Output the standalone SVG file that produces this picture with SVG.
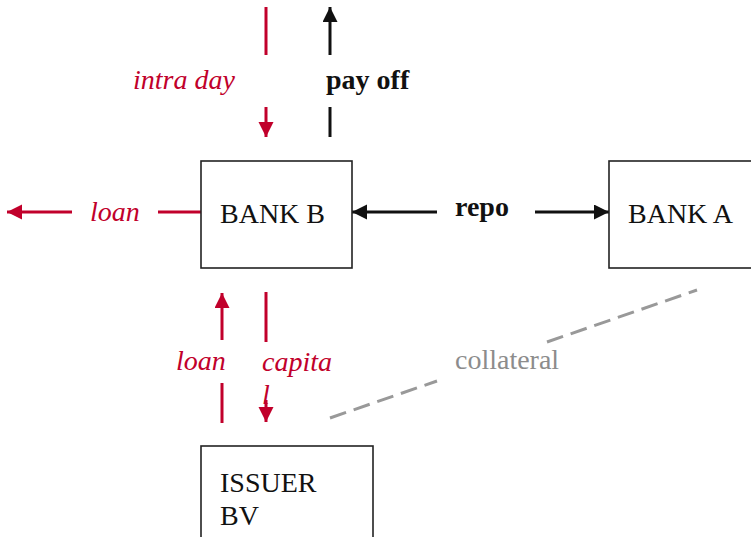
<svg xmlns="http://www.w3.org/2000/svg" width="751" height="537" viewBox="0 0 751 537">
  <style>
    .box { fill: #fff; stroke: #222; stroke-width: 1.6; }
    .lbl { font-family: "Liberation Serif", "Times New Roman", serif; font-size: 28px; fill: #111; }
    .red { stroke: #c1002b; stroke-width: 3; fill: none; }
    .blk { stroke: #111; stroke-width: 3; fill: none; }
    .rtxt { font-family: "Liberation Serif", "Times New Roman", serif; font-size: 28px; font-style: italic; fill: #c1002b; }
    .btxt { font-family: "Liberation Serif", "Times New Roman", serif; font-size: 28px; font-weight: bold; fill: #111; }
    .gtxt { font-family: "Liberation Serif", "Times New Roman", serif; font-size: 28px; fill: #8c8c8c; }
    .dash { stroke: #999; stroke-width: 3; stroke-dasharray: 17 8; fill: none; }
  </style>
  <defs>
    <marker id="headRed" markerUnits="userSpaceOnUse" markerWidth="16" markerHeight="16" refX="15" refY="7.5" orient="auto">
      <path d="M0,0 L15,7.5 L0,15 Z" fill="#c1002b"/>
    </marker>
    <marker id="headBlk" markerUnits="userSpaceOnUse" markerWidth="16" markerHeight="16" refX="15" refY="7.5" orient="auto">
      <path d="M0,0 L15,7.5 L0,15 Z" fill="#111"/>
    </marker>
  </defs>

  <g id="connectors">
    <!-- intra day (down into bank B) -->
    <line class="red" x1="266" y1="7" x2="266" y2="55"/>
    <line class="red" x1="266" y1="107" x2="266" y2="137" marker-end="url(#headRed)"/>
    <!-- pay off (up out of bank B) -->
    <line class="blk" x1="330" y1="55" x2="330" y2="7" marker-end="url(#headBlk)"/>
    <line class="blk" x1="330" y1="137" x2="330" y2="107"/>
    <!-- loan to the left -->
    <line class="red" x1="72" y1="212" x2="7" y2="212" marker-end="url(#headRed)"/>
    <line class="red" x1="201" y1="212" x2="158" y2="212"/>
    <!-- repo between banks -->
    <line class="blk" x1="437" y1="212" x2="352" y2="212" marker-end="url(#headBlk)"/>
    <line class="blk" x1="535" y1="212" x2="609" y2="212" marker-end="url(#headBlk)"/>
    <!-- loan from issuer up to bank B -->
    <line class="red" x1="222" y1="340" x2="222" y2="293" marker-end="url(#headRed)"/>
    <line class="red" x1="222" y1="423" x2="222" y2="383"/>
    <!-- capital from bank B down to issuer -->
    <line class="red" x1="266" y1="292" x2="266" y2="342"/>
    <line class="red" x1="266" y1="400" x2="266" y2="422" marker-end="url(#headRed)"/>
    <!-- collateral link -->
    <line class="dash" x1="330" y1="418" x2="437" y2="381"/>
    <line class="dash" x1="547" y1="342" x2="697" y2="290"/>
  </g>

  <g id="labels">
    <text class="rtxt" x="133" y="89">intra day</text>
    <text class="btxt" x="326" y="89">pay off</text>
    <text class="rtxt" x="90" y="221">loan</text>
    <text class="btxt" x="455" y="216">repo</text>
    <text class="rtxt" x="176" y="370">loan</text>
    <text class="rtxt" x="262" y="371">capita</text>
    <text class="rtxt" x="262" y="404">l</text>
    <text class="gtxt" x="455" y="369">collateral</text>
  </g>

  <g id="bankB">
    <rect class="box" x="201" y="161" width="151" height="107"/>
    <text class="lbl" x="220" y="223">BANK B</text>
  </g>
  <g id="bankA">
    <rect class="box" x="609" y="161" width="150" height="107"/>
    <text class="lbl" x="628" y="223">BANK A</text>
  </g>
  <g id="issuerBV">
    <rect class="box" x="201" y="446" width="172" height="100"/>
    <text class="lbl" x="220" y="492">ISSUER</text>
    <text class="lbl" x="220" y="525">BV</text>
  </g>
</svg>
